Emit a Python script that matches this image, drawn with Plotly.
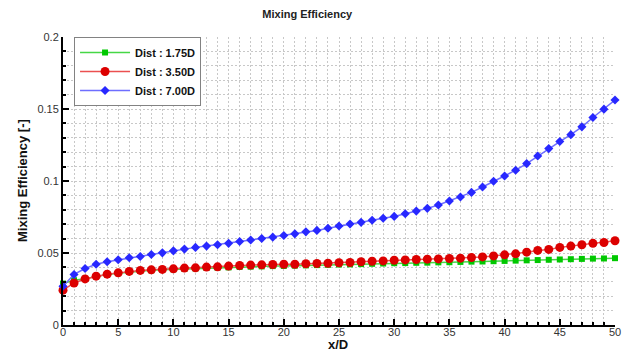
import plotly.graph_objects as go

x_d = list(range(0, 51))

dist_175 = [0.0288, 0.0311, 0.0322, 0.0338, 0.0350, 0.0360, 0.0368, 0.0375, 0.0380, 0.0384,
            0.0387, 0.0390, 0.0393, 0.0396, 0.0398, 0.0400, 0.0403, 0.0405, 0.0407, 0.0409,
            0.0410, 0.0412, 0.0414, 0.0416, 0.0418, 0.0420, 0.0421, 0.0423, 0.0425, 0.0427,
            0.0429, 0.0430, 0.0432, 0.0433, 0.0435, 0.0436, 0.0438, 0.0440, 0.0441, 0.0443,
            0.0445, 0.0447, 0.0449, 0.0451, 0.0453, 0.0455, 0.0457, 0.0459, 0.0461, 0.0462,
            0.0464]

dist_350 = [0.0242, 0.0292, 0.0320, 0.0339, 0.0353, 0.0362, 0.0372, 0.0379, 0.0383, 0.0386,
            0.0390, 0.0395, 0.0397, 0.0402, 0.0404, 0.0409, 0.0413, 0.0416, 0.0418, 0.0420,
            0.0422, 0.0422, 0.0425, 0.0427, 0.0429, 0.0432, 0.0434, 0.0439, 0.0443, 0.0445,
            0.0450, 0.0452, 0.0455, 0.0457, 0.0459, 0.0462, 0.0464, 0.0469, 0.0473, 0.0480,
            0.0487, 0.0494, 0.0506, 0.0518, 0.0525, 0.0539, 0.0548, 0.0557, 0.0567, 0.0573,
            0.0585]

dist_700 = [0.0269, 0.0351, 0.0392, 0.0422, 0.0439, 0.0453, 0.0467, 0.0476, 0.0490, 0.0501,
            0.0515, 0.0527, 0.0539, 0.0548, 0.0557, 0.0567, 0.0580, 0.0590, 0.0601, 0.0610,
            0.0622, 0.0633, 0.0647, 0.0657, 0.0672, 0.0687, 0.0701, 0.0713, 0.0727, 0.0741,
            0.0754, 0.0773, 0.0791, 0.0810, 0.0833, 0.0861, 0.0889, 0.0921, 0.0958, 0.0998,
            0.1035, 0.1075, 0.1121, 0.1174, 0.1225, 0.1274, 0.1322, 0.1376, 0.1441, 0.1499,
            0.1562]

series_names = ["Dist : 1.75D", "Dist : 3.50D", "Dist : 7.00D"]

FONT = "Liberation Sans, Arial, sans-serif"

fig = go.Figure()
fig.add_trace(go.Scatter(
    x=x_d, y=dist_175, name="<b>" + series_names[0] + "</b>", mode="lines+markers",
    line=dict(color="rgb(70,215,70)", width=1.5),
    marker=dict(symbol="square", size=6, color="rgb(0,200,0)"),
    cliponaxis=False))
fig.add_trace(go.Scatter(
    x=x_d, y=dist_350, name="<b>" + series_names[1] + "</b>", mode="lines+markers",
    line=dict(color="rgb(235,80,80)", width=1.5),
    marker=dict(symbol="circle", size=9, color="rgb(220,0,0)"),
    cliponaxis=False))
fig.add_trace(go.Scatter(
    x=x_d, y=dist_700, name="<b>" + series_names[2] + "</b>", mode="lines+markers",
    line=dict(color="rgb(110,110,255)", width=1.5),
    marker=dict(symbol="diamond", size=7, color="rgb(40,40,255)"),
    cliponaxis=False))

grid_color = "rgb(200,200,200)"
dash = "2px,2px"
fig.update_layout(
    width=627, height=353,
    margin=dict(l=63, r=12, t=37, b=28),
    paper_bgcolor="white", plot_bgcolor="white",
    font=dict(family=FONT, size=11, color="#333333"),
    title=dict(text="<b>Mixing Efficiency</b>", x=0.49, xanchor="center", y=0.96, yanchor="middle",
               font=dict(family=FONT, size=11, color="#222222")),
    showlegend=True,
    legend=dict(x=0.02, y=1.0, xanchor="left", yanchor="top",
                bgcolor="white", bordercolor="rgb(130,130,130)", borderwidth=1,
                font=dict(family=FONT, size=11, color="#111111"),
                itemwidth=50, tracegroupgap=0),
    annotations=[
        dict(text="<b>x/D</b>", xref="paper", yref="paper", x=0.498, y=0,
             xanchor="center", yanchor="top", yshift=-10, showarrow=False,
             font=dict(family=FONT, size=13, color="#111111")),
        dict(text="<b>Mixing Efficiency [-]</b>", xref="paper", yref="paper", x=0, y=0.5,
             xanchor="center", yanchor="middle", xshift=-41, textangle=-90, showarrow=False,
             font=dict(family=FONT, size=13, color="#111111")),
    ],
)
fig.update_xaxes(
    range=[0, 50], dtick=5, tick0=0, automargin=False,
    showline=True, linecolor="black", linewidth=2,
    ticks="inside", ticklen=6, tickwidth=2, tickcolor="black",
    ticklabelstandoff=-4,
    showgrid=True, gridcolor=grid_color, gridwidth=1, griddash=dash,
    zeroline=False,
    minor=dict(dtick=1, ticks="inside", ticklen=3, tickcolor="black",
               showgrid=True, gridcolor=grid_color, griddash=dash),
    tickfont=dict(size=11, color="#333333"),
)
fig.update_yaxes(
    range=[0, 0.2], dtick=0.05, tick0=0, automargin=False,
    showline=True, linecolor="black", linewidth=2,
    ticks="inside", ticklen=6, tickwidth=2, tickcolor="black",
    showgrid=True, gridcolor=grid_color, gridwidth=1, griddash=dash,
    zeroline=False,
    minor=dict(dtick=0.01, ticks="inside", ticklen=3, tickcolor="black",
               showgrid=True, gridcolor=grid_color, griddash=dash),
    tickfont=dict(size=11, color="#333333"),
)

fig.write_html("out.html", config={"displayModeBar": False},
               post_script="document.body.style.margin='0';document.body.style.overflow='hidden';")
